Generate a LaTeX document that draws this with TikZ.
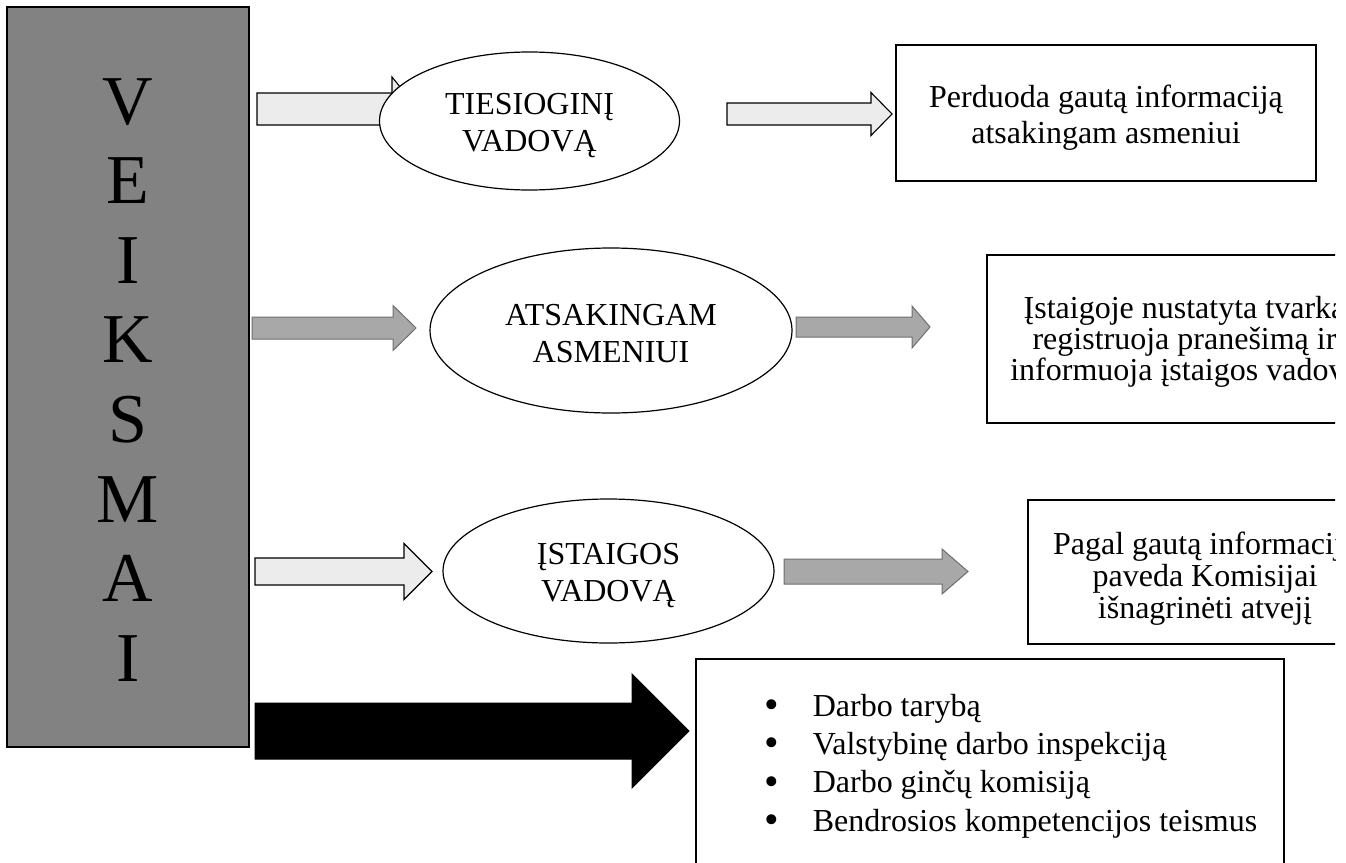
\documentclass[tikz,border=0pt]{standalone}
\usepackage{fontspec}
\usepackage{graphicx}
\setmainfont{Liberation Serif}
\usetikzlibrary{shapes.geometric}
\definecolor{boxgray}{RGB}{130,130,130}
\definecolor{lightarrow}{RGB}{236,236,236}
\definecolor{midarrow}{RGB}{168,168,168}
\definecolor{midedge}{RGB}{110,110,110}
% block arrow: style, x start, x head base, x tip, y centre, half body, half head
\newcommand\blockarrow[7]{%
  \path[#1] (#2,#5-#6) -- (#3,#5-#6) -- (#3,#5-#7) -- (#4,#5)
    -- (#3,#5+#7) -- (#3,#5+#6) -- (#2,#5+#6) -- cycle;}
\newcommand\bulletmark{\makebox[48.8pt][l]{\smash{\raisebox{-2.5pt}{\scalebox{1.3}{•}}}}}
\begin{document}
\begin{tikzpicture}[x=1pt,y=-1pt,
  txt/.style={font=\fontsize{32}{37}\selectfont},
  ell/.style={ellipse, draw, line width=1.2pt, fill=white, inner sep=0pt,
    align=center, txt},
  frame/.style={rectangle, draw, line width=1.1pt, inner sep=0pt, fill=white},
  lightarr/.style={fill=lightarrow, draw=black, line width=1.1pt},
  midarr/.style={fill=midarrow, draw=midedge, line width=1pt},
  blackarr/.style={fill=black, draw=black, line width=1pt},
  letter/.style={anchor=base, inner sep=0pt, font=\fontsize{70}{70}\selectfont},
  item/.style={anchor=base west, inner sep=0pt, txt}]
\useasboundingbox (0,0) rectangle (1346,862);
\begin{scope}
\clip (0,0) rectangle (1335,862);
% left box
\node[draw, fill=boxgray, line width=1.5pt, minimum width=242pt,
  minimum height=740pt, inner sep=0pt] (veik) at (128,377) {};
\foreach \l [count=\i] in {V,E,I,K,S,M,A,I}
  \node[letter] (L\i) at (128,44.5+79.6*\i) {\l};
% arrows
\blockarrow{lightarr}{257}{392}{418}{109}{16}{32}
\blockarrow{lightarr}{727}{871}{892}{114}{11}{21.5}
\blockarrow{midarr}{252}{393}{416}{328}{11}{22.5}
\blockarrow{midarr}{796}{912}{930}{327}{10}{21}
\blockarrow{lightarr}{255}{404}{432}{571.5}{13.5}{28}
\blockarrow{midarr}{784}{942}{968}{571.5}{12.5}{22.5}
\blockarrow{blackarr}{255}{632}{689}{731}{28}{57}
% ellipses
\node[ell, minimum width=300pt, minimum height=138pt] (e1) at (529.5,121)
  {\rule{0pt}{31pt}TIESIOGINĮ\\VADOVĄ};
\node[ell, minimum width=362pt, minimum height=165pt] (e2) at (611,330.5)
  {\rule{0pt}{27pt}ATSAKINGAM\\ASMENIUI};
\node[ell, minimum width=331pt, minimum height=144pt] (e3) at (608.5,571)
  {\rule{0pt}{31pt}ĮSTAIGOS\\VADOVĄ};
% boxes
\node[frame, minimum width=420pt, minimum height=136pt] (r1) at (1106,113) {};
\node[txt, align=center, inner sep=0pt, font=\fontsize{32}{36.5}\selectfont]
  (t1) at (1106,117.8) {Perduoda gautą informaciją\\atsakingam asmeniui};
\node[frame, minimum width=395pt, minimum height=168pt] (r2) at (1184.5,339) {};
\node[txt, align=center, inner sep=0pt, font=\fontsize{32}{31}\selectfont]
  (t2) at (1184.5,341.6)
  {Įstaigoje nustatyta tvarka\\registruoja pranešimą ir\\informuoja įstaigos vadovą};
\node[frame, minimum width=354pt, minimum height=144pt] (r3) at (1205,572) {};
\node[txt, align=center, inner sep=0pt, font=\fontsize{32}{32}\selectfont]
  (t3) at (1205,578.6)
  {Pagal gautą informaciją\\paveda Komisijai\\išnagrinėti atvejį};
\node[frame, minimum width=588pt, minimum height=221pt] (r4) at (990,769.5) {};
\node[item] (b1) at (763.8,716) {\bulletmark Darbo tarybą};
\node[item] (b2) at (763.8,754.3) {\bulletmark Valstybinę darbo inspekciją};
\node[item] (b3) at (763.8,792.6) {\bulletmark Darbo ginčų komisiją};
\node[item] (b4) at (763.8,831) {\bulletmark Bendrosios kompetencijos teismus};
\end{scope}
\end{tikzpicture}
\end{document}
